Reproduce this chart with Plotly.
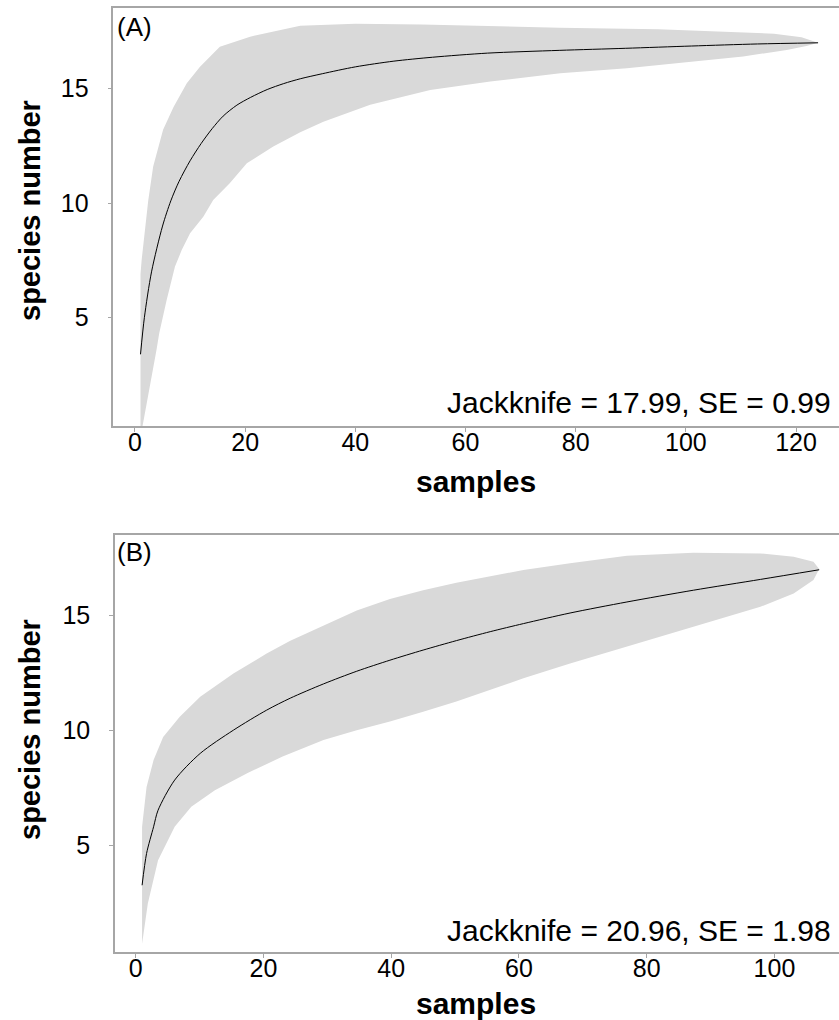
import plotly.graph_objects as go

# ---------------- Panel A data ----------------
a_mean_x = [1, 1.7, 3, 5, 6.5, 8, 10, 12, 14, 16, 18.5, 21, 24, 27, 30, 34, 40, 47, 54, 64, 77, 89, 101, 113, 124]
a_mean_y = [3.4, 5.0, 7.0, 9.0, 10.1, 10.95, 11.85, 12.6, 13.25, 13.8, 14.28, 14.62, 14.96, 15.22, 15.43, 15.65, 15.95, 16.2, 16.37, 16.55, 16.67, 16.76, 16.86, 16.95, 17.0]
a_up_x = [1, 1.2, 2.4, 3.3, 5.1, 7.0, 9.4, 11.8, 15.4, 20.9, 30, 40, 52, 64, 77, 95, 107, 116, 121, 123, 124]
a_up_y = [6.9, 7.5, 10.1, 11.6, 13.2, 14.2, 15.24, 15.96, 16.83, 17.27, 17.74, 17.83, 17.8, 17.72, 17.66, 17.59, 17.49, 17.4, 17.24, 17.06, 17.0]
a_lo_x = [1, 1.4, 2.4, 3.9, 4.4, 5.75, 7.26, 8.5, 10.0, 12.4, 14.2, 17.2, 20.3, 25.1, 30, 34.2, 42.7, 53.6, 64.5, 77.2, 89.3, 101.4, 110.4, 118.3, 121.9, 124]
a_lo_y = [0.0, 0.3, 1.7, 3.59, 4.32, 5.77, 7.23, 7.96, 8.69, 9.41, 10.14, 10.87, 11.74, 12.47, 13.1, 13.55, 14.3, 14.94, 15.31, 15.67, 15.89, 16.18, 16.4, 16.69, 16.86, 17.0]

# ---------------- Panel B data ----------------
b_mean_x = [1, 1.7, 2.8, 3.5, 6.1, 10.1, 15.3, 20.5, 24.2, 29.4, 34.6, 39.8, 45, 50.2, 55.5, 60.7, 68, 76.9, 87.3, 97.8, 107]
b_mean_y = [3.26, 4.64, 5.8, 6.52, 7.83, 8.99, 10.0, 10.87, 11.39, 12.01, 12.56, 13.04, 13.48, 13.89, 14.28, 14.63, 15.09, 15.57, 16.08, 16.55, 16.97]
b_up_x = [1, 1.7, 2.8, 4.3, 6.9, 10.1, 15.3, 20.5, 24.2, 29.4, 34.6, 39.8, 45, 50.2, 55.5, 60.7, 68, 76.9, 87.3, 97.8, 103, 106.1, 107]
b_up_y = [5.8, 7.53, 8.7, 9.7, 10.58, 11.45, 12.46, 13.33, 13.88, 14.55, 15.2, 15.7, 16.08, 16.4, 16.69, 16.96, 17.25, 17.58, 17.71, 17.68, 17.54, 17.32, 17.0]
b_lo_x = [1, 1.9, 3.5, 6.1, 8.7, 12.4, 17.6, 23, 29.4, 34.6, 39.8, 45, 50.2, 55.5, 60.7, 68, 76.9, 87.3, 97.8, 103, 106.1, 107]
b_lo_y = [0.72, 2.47, 4.35, 5.8, 6.67, 7.39, 8.15, 8.85, 9.57, 10.0, 10.38, 10.8, 11.25, 11.74, 12.25, 12.9, 13.62, 14.49, 15.36, 15.94, 16.52, 17.0]

y_ticks = [5, 10, 15]
a_x_ticks = [0, 20, 40, 60, 80, 100, 120]
b_x_ticks = [0, 20, 40, 60, 80, 100]
a_label = "Jackknife = 17.99, SE = 0.99"
b_label = "Jackknife = 20.96, SE = 1.98"

W, H = 839, 1020
FONT = "Liberation Sans, Arial, sans-serif"
BAND = "#d9d9d9"
AXC = "#a6a6a6"

fig = go.Figure()


def add_panel(ux, uy, lx, ly, mx, my, xa, ya):
    fig.add_trace(go.Scatter(
        x=ux + lx[::-1], y=uy + ly[::-1], fill="toself", fillcolor=BAND,
        line=dict(width=0), mode="lines", hoverinfo="skip", showlegend=False,
        xaxis=xa, yaxis=ya))
    fig.add_trace(go.Scatter(
        x=mx, y=my, mode="lines", line=dict(color="black", width=1, shape="spline", smoothing=0.8),
        showlegend=False, xaxis=xa, yaxis=ya))


add_panel(a_up_x, a_up_y, a_lo_x, a_lo_y, a_mean_x, a_mean_y, "x", "y")
add_panel(b_up_x, b_up_y, b_lo_x, b_lo_y, b_mean_x, b_mean_y, "x2", "y2")


def py(p):
    return 1 - p / H


def px(p):
    return p / W


common_x = dict(showline=True, linecolor=AXC, linewidth=1.5, mirror=True, ticks="outside",
                ticklen=4, tickcolor=AXC, showgrid=False, zeroline=False,
                tickfont=dict(family=FONT, size=25, color="black"), ticklabelstandoff=-11)
common_y = dict(showline=True, linecolor=AXC, linewidth=1.5, mirror=False, ticks="outside",
                ticklen=4, tickcolor=AXC, showgrid=False, zeroline=False,
                tickfont=dict(family=FONT, size=25, color="black"), ticklabelstandoff=14,
                tickvals=y_ticks)

fig.update_layout(
    width=W, height=H, margin=dict(l=0, r=0, t=0, b=0),
    paper_bgcolor="white", plot_bgcolor="white",
    xaxis=dict(domain=[px(113.4), 1], range=[-3.92, 127.8], tickvals=a_x_ticks, anchor="y", **common_x),
    yaxis=dict(domain=[py(426), py(8)], range=[0.27, 18.52], anchor="x", **common_y),
    xaxis2=dict(domain=[px(115), 1], range=[-3.24, 110.1], tickvals=b_x_ticks, anchor="y2", **common_x),
    yaxis2=dict(domain=[py(952), py(535)], range=[0.36, 18.48], anchor="x2", **common_y),
)

ann = []
for lab, yy in [("(A)", 27), ("(B)", 552)]:
    ann.append(dict(text=lab, x=px(115), y=py(yy), xref="paper", yref="paper", xanchor="left",
                    yanchor="middle", showarrow=False, font=dict(family=FONT, size=26, color="black")))
for lab, yy in [(a_label, 403), (b_label, 930)]:
    ann.append(dict(text=lab, x=px(833), y=py(yy), xref="paper", yref="paper", xanchor="right",
                    yanchor="middle", showarrow=False, font=dict(family=FONT, size=30, color="black")))
for yy in [481, 1003]:
    ann.append(dict(text="<b>samples</b>", x=px(476), y=py(yy), xref="paper", yref="paper",
                    xanchor="center", yanchor="middle", showarrow=False,
                    font=dict(family=FONT, size=30, color="black")))
for yy in [211, 730]:
    ann.append(dict(text="<b>species number</b>", x=px(30), y=py(yy), xref="paper", yref="paper",
                    xanchor="center", yanchor="middle", showarrow=False, textangle=-90,
                    font=dict(family=FONT, size=29, color="black")))
fig.update_layout(annotations=ann)

fig.write_html("out.html", config={"displayModeBar": False},
               post_script="document.body.style.margin='0';document.documentElement.style.overflow='hidden';document.body.style.overflow='hidden';")
